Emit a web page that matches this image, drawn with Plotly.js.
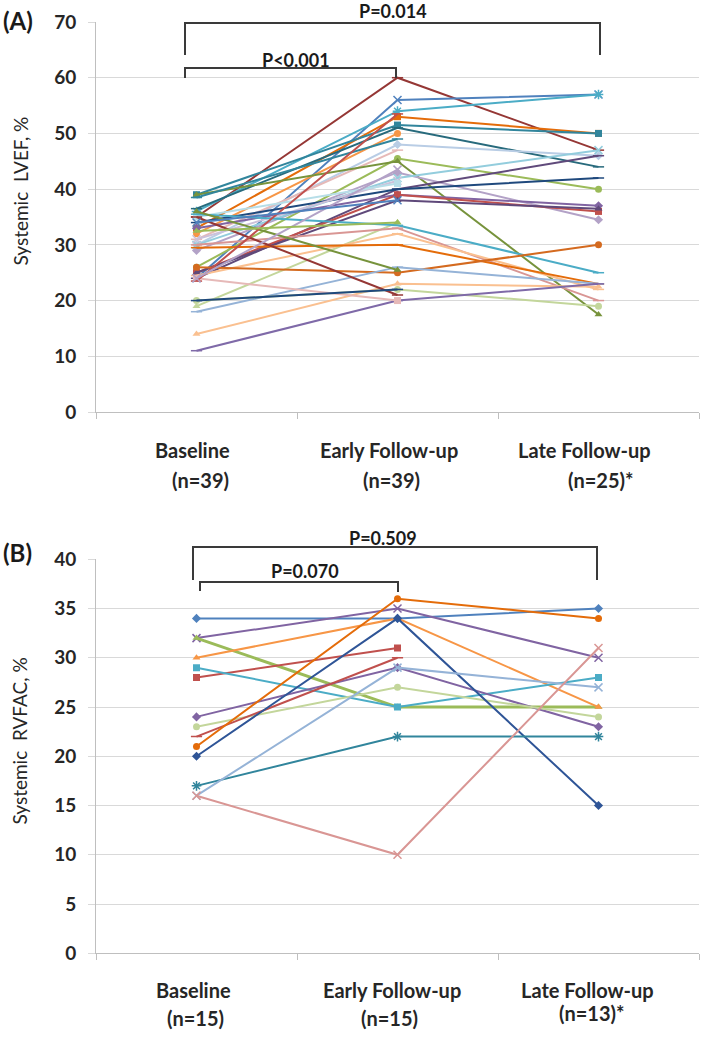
<!DOCTYPE html>
<html>
<head>
<meta charset="utf-8">
<script src="https://cdn.plot.ly/plotly-3.0.1.min.js"></script>
<style>html,body{margin:0;padding:0;background:#fff;}#chart{width:709px;height:1038px;}</style>
</head>
<body>
<div id="chart"></div>
<script>
// ---------- data ----------
const categories = ["Baseline", "Early Follow-up", "Late Follow-up"];
const nLabelsA = ["(n=39)", "(n=39)", "(n=25)*"];
const nLabelsB = ["(n=15)", "(n=15)", "(n=13)*"];
const yTitleA = "Systemic  LVEF, %";
const yTitleB = "Systemic  RVFAC, %";
const pTextsA = ["P=0.014", "P<0.001"];
const pTextsB = ["P=0.509", "P=0.070"];

// Panel A: systemic LVEF (%) per patient
const lvefBaseline = [35, 24, 36, 33, 39, 36.5, 32, 30, 31, 26, 39, 29, 30, 24, 34, 33, 25, 25, 31, 35, 19, 35.5, 30, 24.5, 29.5, 26, 18, 36, 14, 20, 11, 35, 24, 20, 38.5, 23.5, 24, 32.5, 34];
const lvefEarly    = [60, 56, 54, 53, 51.5, 51, 50, 48, 47, 45.5, 45, 43, 42, 40, 40, 39, 39, 38, 41.5, 41, 34, 33.5, 33, 32, 30, 25, 26, 25.5, 23, 22, 20, 21, 20, 22, 49, 53.5, 43.5, 34, 38];
const lvefLate     = [47, 57, 57, 50, 50, 44, null, 46, null, 40, 17.5, 34.5, 47, 46, 42, 37, 36, 36.5, null, null, null, 25, 20, 22, 23, 30, 23, null, 22.5, 19, 23, null, null, null, null, null, null, null, null];

// Panel B: systemic RVFAC (%) per patient
const rvfacBaseline = [34, 32, 32, 30, 28, 29, 24, 23, 22, 21, 20, 17, 16, 16];
const rvfacEarly    = [34, 35, 25, 34, 31, 25, 29, 27, 30, 36, 34, 22, 29, 10];
const rvfacLate     = [35, 30, 25, 25, null, 28, 23, 24, null, 34, 15, 22, 27, 31];

// ---------- styles ----------
const colorsA = ['#953735','#4F81BD','#4BACC6','#E46C0A','#31859C','#276A7C','#F79646','#B9CDE5','#E6B9B8','#9BBB59',
                 '#77933C','#B3A2C7','#93CDDD','#604A7B','#1F497D','#8064A2','#C0504D','#5F497A','#CCC1DA','#B7DEE8',
                 '#C3D69B','#4BACC6','#D99694','#FAC090','#E46C0A','#D46A1F','#95B3D7','#77933C','#FAC090','#C3D69B',
                 '#7F6AA8','#953735','#E6B9B8','#1F497D','#31859C','#C0504D','#B3A2C7','#9BBB59','#4F81BD'];
const symbolsA = ['line-ew','x-thin','asterisk','square','square','line-ew','circle','diamond','line-ew','circle',
                  'triangle-up','diamond','x-thin','line-ew','line-ew','diamond','square','triangle-up','x-thin','square',
                  'triangle-up','line-ew','line-ew','line-ew','line-ew','circle','line-ew','triangle-up','triangle-up','circle',
                  'line-ew','line-ew','square','line-ew','line-ew','line-ew','x-thin','triangle-up','x-thin'];
const colorsB = ['#4F81BD','#8064A2','#9BBB59','#F79646','#C0504D','#4BACC6','#8064A2','#C3D69B','#C0504D','#E46C0A','#2F5597','#31859C','#95B3D7','#D99694'];
const symbolsB = ['diamond','x-thin','triangle-up','triangle-up','square','square','diamond','circle','line-ew','circle','diamond','asterisk','x-thin','x-thin'];

const W = 709, H = 1038;
const px = x => x / W;
const py = y => 1 - y / H;

function isLineSym(s){ return s.indexOf('line') === 0 || s.indexOf('x-thin') === 0 || s === 'asterisk'; }

const traces = [];
function addSeries(base, early, late, colors, symbols, xa, ya, widthFn){
  for (let i = 0; i < base.length; i++) {
    const sym = symbols[i];
    const lineSym = isLineSym(sym);
    traces.push({
      type: 'scatter', mode: 'lines+markers',
      x: categories, y: [base[i], early[i], late[i]], xaxis: xa, yaxis: ya,
      line: {color: colors[i], width: widthFn ? widthFn(i) : 2},
      marker: {symbol: sym, size: lineSym ? 8 : 7, color: colors[i],
               line: {color: colors[i], width: lineSym ? 1.5 : 0}},
      connectgaps: false, showlegend: false, hoverinfo: 'skip'
    });
  }
}
addSeries(lvefBaseline, lvefEarly, lvefLate, colorsA, symbolsA, 'x', 'y');
addSeries(rvfacBaseline, rvfacEarly, rvfacLate, colorsB, symbolsB, 'x2', 'y2', i => i === 2 ? 3 : 2);

const FAM = 'Lato, "Open Sans", sans-serif';
const tickFont = {family: FAM, size: 19, color: '#262626', weight: 'bold'};
const titleFont = {family: FAM, size: 19, color: '#262626'};

function xAxis(){
  return {
    type: 'category', range: [-0.5, 2.5], domain: [px(96), px(699)],
    showgrid: false, showline: true, linecolor: '#BFBFBF', linewidth: 1,
    ticks: 'outside', tickson: 'boundaries', ticklen: 6, tickcolor: '#BFBFBF',
    showticklabels: false, zeroline: false, fixedrange: true
  };
}
function yAxis(domain, max, dtick, anchor){
  return {
    domain: domain, range: [0, max], dtick: dtick, anchor: anchor,
    showgrid: true, gridcolor: '#D9D9D9', gridwidth: 1,
    showline: true, linecolor: '#BFBFBF', linewidth: 1,
    ticks: 'outside', ticklen: 7, tickcolor: '#D9D9D9',
    tickfont: tickFont, zeroline: false, ticklabelstandoff: 8
  };
}

const layout = {
  width: W, height: H, margin: {l: 0, r: 0, t: 0, b: 0},
  paper_bgcolor: '#fff', plot_bgcolor: '#fff',
  xaxis: Object.assign(xAxis(), {anchor: 'y'}),
  yaxis: yAxis([py(412), py(22)], 70, 10, 'x'),
  xaxis2: Object.assign(xAxis(), {anchor: 'y2'}),
  yaxis2: yAxis([py(953.3), py(559.3)], 40, 5, 'x2'),
  shapes: [], annotations: []
};

// y-axis titles
layout.annotations.push({xref: 'paper', yref: 'paper', x: px(19.5), y: py(191), text: yTitleA, textangle: -90, showarrow: false, font: titleFont, xanchor: 'center', yanchor: 'middle'});
layout.annotations.push({xref: 'paper', yref: 'paper', x: px(18.5), y: py(741), text: yTitleB, textangle: -90, showarrow: false, font: titleFont, xanchor: 'center', yanchor: 'middle'});

// category labels
const catFont = {family: FAM, size: 20, color: '#262626', weight: 'bold'};
const catShiftA = [-4, -9, -14], nShiftA = [4, -6, 2];
const catShiftB = [-3, -6, -11], nShiftB = [-1, -8, -7];
categories.forEach((c, i) => {
  layout.annotations.push({xref: 'x', yref: 'paper', x: c, y: py(450), text: c, showarrow: false, font: catFont, yanchor: 'middle', xshift: catShiftA[i]});
  layout.annotations.push({xref: 'x', yref: 'paper', x: c, y: py(480), text: nLabelsA[i], showarrow: false, font: catFont, yanchor: 'middle', xshift: nShiftA[i]});
  layout.annotations.push({xref: 'x2', yref: 'paper', x: c, y: py(990), text: c, showarrow: false, font: catFont, yanchor: 'middle', xshift: catShiftB[i]});
  layout.annotations.push({xref: 'x2', yref: 'paper', x: c, y: py(i === 2 ? 1012.5 : 1017.5), text: nLabelsB[i], showarrow: false, font: catFont, yanchor: 'middle', xshift: nShiftB[i]});
});

// panel letters
const letterFont = {family: FAM, size: 24, color: '#1a1a1a', weight: 'bold'};
layout.annotations.push({xref: 'paper', yref: 'paper', x: px(1), y: py(21), xanchor: 'left', yanchor: 'middle', text: '(A)', showarrow: false, font: letterFont});
layout.annotations.push({xref: 'paper', yref: 'paper', x: px(1), y: py(552), xanchor: 'left', yanchor: 'middle', text: '(B)', showarrow: false, font: letterFont});

// significance brackets
const brFont = {family: FAM, size: 18, color: '#1a1a1a', weight: 'bold'};
function bracket(x0, x1, yTop, yL, yR, text, tx, ty){
  const ln = {color: '#3a3a3a', width: 2};
  layout.shapes.push({type: 'path', xref: 'paper', yref: 'paper',
    path: `M ${px(x0)} ${py(yL)} L ${px(x0)} ${py(yTop)} L ${px(x1)} ${py(yTop)} L ${px(x1)} ${py(yR)}`, line: ln});
  layout.annotations.push({xref: 'paper', yref: 'paper', x: px(tx), y: py(ty), text: text, showarrow: false, font: brFont, yanchor: 'middle'});
}
bracket(185, 600, 23, 55, 55, pTextsA[0], 393, 11);
bracket(185, 396, 68, 78, 78, pTextsA[1], 296, 60);
bracket(193, 597, 547, 580, 580, pTextsB[0], 383, 538);
bracket(200, 398, 582, 591, 592, pTextsB[1], 305, 571);

Plotly.newPlot('chart', traces, layout, {displayModeBar: false, staticPlot: true});
</script>
</body>
</html>
